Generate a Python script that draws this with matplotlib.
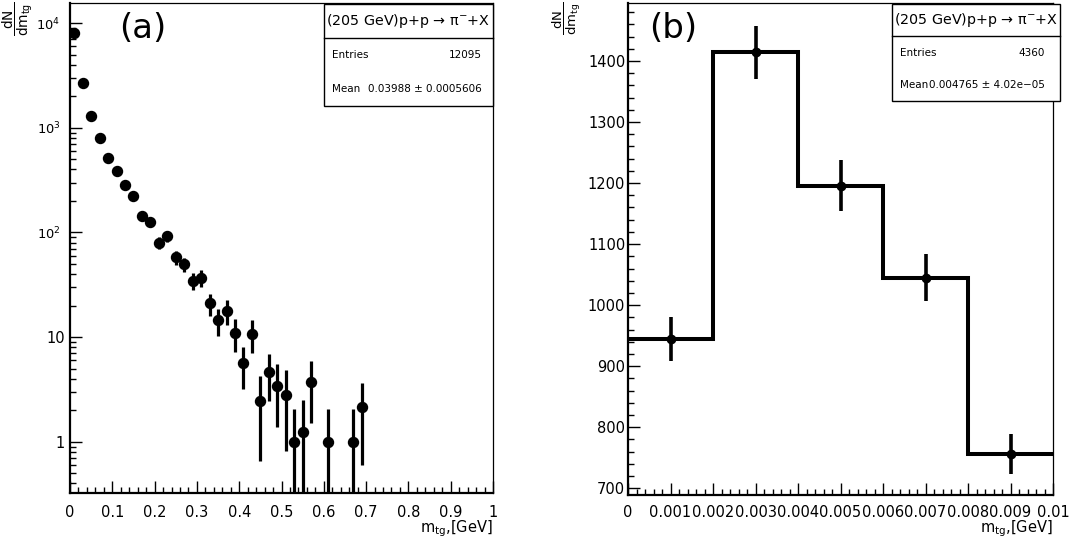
import matplotlib
matplotlib.use("Agg")
import matplotlib.pyplot as plt
from matplotlib.patches import Rectangle
from matplotlib.lines import Line2D
from matplotlib.ticker import MultipleLocator, LogLocator, NullFormatter

plt.rcParams['font.family'] = ['DejaVu Sans']
plt.rcParams['mathtext.fontset'] = 'dejavusans'

# ---------------- data ----------------
# panel (a): m_tg distribution, bin width 0.02 GeV (empty bins omitted)
a_centers = [0.01, 0.03, 0.05, 0.07, 0.09, 0.11, 0.13, 0.15, 0.17, 0.19,
             0.21, 0.23, 0.25, 0.27, 0.29, 0.31, 0.33, 0.35, 0.37, 0.39,
             0.41, 0.43, 0.45, 0.47, 0.49, 0.51, 0.53, 0.55, 0.57, 0.61,
             0.67, 0.69]
a_values = [8020, 2655, 1300, 802, 516, 388, 283, 223, 144, 126,
            79.6, 92.3, 57.8, 49.5, 34.5, 36.9, 21.0, 14.5, 17.7, 11.0,
            5.6, 10.8, 2.45, 4.67, 3.44, 2.82, 1.0, 1.24, 3.72, 1.0,
            1.0, 2.13]
a_errors = [98, 56, 40, 31, 25, 22, 19, 17, 14, 13,
            10.5, 11, 9, 8, 6.5, 6.8, 5.1, 4.2, 4.7, 3.8,
            2.4, 3.7, 1.8, 2.2, 2.05, 2.0, 1.05, 1.25, 2.2, 1.08,
            1.08, 1.53]
a_xticks = [0, 0.1, 0.2, 0.3, 0.4, 0.5, 0.6, 0.7, 0.8, 0.9, 1.0]
a_xticklabels = ['0', '0.1', '0.2', '0.3', '0.4', '0.5', '0.6', '0.7', '0.8', '0.9', '1']
a_yticks = [1, 10, 100, 1000, 10000]
a_yticklabels = ['1', '10', '$10^{2}$', '$10^{3}$', '$10^{4}$']

# panel (b): fine binning, bin width 0.002 GeV
b_edges = [0.0, 0.002, 0.004, 0.006, 0.008, 0.010]
b_centers = [0.001, 0.003, 0.005, 0.007, 0.009]
b_values = [945, 1414, 1196, 1045, 756]
b_errors = [36, 44, 41, 38, 33]
b_xticks = [0, 0.001, 0.002, 0.003, 0.004, 0.005, 0.006, 0.007, 0.008, 0.009, 0.01]
b_xticklabels = ['0', '0.001', '0.002', '0.003', '0.004', '0.005', '0.006',
                 '0.007', '0.008', '0.009', '0.01']
b_yticks = [700, 800, 900, 1000, 1100, 1200, 1300, 1400]

stat_title = '(205 GeV)p+p → π$^{-}$+X'
a_entries, a_mean = '12095', '0.03988 ± 0.0005606'
b_entries, b_mean = '4360', '0.004765 ± 4.02e−05'

# ---------------- figure ----------------
W, H = 1072, 544
fig = plt.figure(figsize=(W / 100, H / 100), dpi=100)


def fx(px):
    return px / W


def fy(py):
    return 1 - py / H


def make_axes(l, t, r, b):
    return fig.add_axes([fx(l), fy(b), fx(r) - fx(l), fy(t) - fy(b)])


ax1 = make_axes(70, 3.3, 493, 493)
ax2 = make_axes(628, 3.3, 1053, 495)

TICK_FS = 10.5

for ax in (ax1, ax2):
    ax.tick_params(which='both', direction='in', top=False, right=False,
                   width=1.0, labelsize=TICK_FS, colors='black')
    ax.tick_params(which='major', length=8.8)
    ax.tick_params(which='minor', length=4.5)
    ax.spines['left'].set_linewidth(1.6)
    ax.spines['bottom'].set_linewidth(1.6)
    ax.spines['top'].set_linewidth(0.9)
    ax.spines['right'].set_linewidth(0.9)

# ---- panel (a)
ax1.set_yscale('log', nonpositive='clip')
ax1.errorbar(a_centers, a_values, yerr=a_errors, fmt='o', color='black',
             ms=7.2, elinewidth=2.3, capsize=0, zorder=3)
ax1.set_xlim(0, 1)
ax1.set_ylim(0.324, 15500)
ax1.set_xticks(a_xticks, labels=a_xticklabels)
ax1.xaxis.set_minor_locator(MultipleLocator(0.02))
ax1.set_yticks(a_yticks, labels=a_yticklabels)
ax1.yaxis.set_minor_locator(LogLocator(base=10, subs=range(2, 10), numticks=20))
ax1.yaxis.set_minor_formatter(NullFormatter())
ax1.tick_params(axis='x', which='both', pad=8.5)
for tick, lab in zip(ax1.yaxis.get_major_ticks(), a_yticklabels):
    if '^' in lab:
        tick.set_pad(7.0)
        tick.label1.set_fontsize(9.4)
    else:
        tick.set_pad(3.6)

# ---- panel (b)
ax2.stairs(b_values, b_edges, baseline=None, color='black', lw=2.9, zorder=2)
ax2.errorbar(b_centers, b_values, yerr=b_errors, fmt='o', color='black',
             ms=6.0, elinewidth=2.6, capsize=0, zorder=3)
ax2.set_xlim(0, 0.01)
ax2.set_ylim(689, 1494.5)
ax2.set_xticks(b_xticks, labels=b_xticklabels)
ax2.xaxis.set_minor_locator(MultipleLocator(0.0002))
ax2.set_yticks(b_yticks)
ax2.yaxis.set_minor_locator(MultipleLocator(20))
ax2.tick_params(axis='y', which='both', pad=2.0)
ax2.tick_params(axis='x', which='both', pad=7.5)

# axis titles
for ax, ybot, hgt, ylx, ylfs in ((ax1, 493, 489.7, 18, 9.8), (ax2, 495, 491.7, 567, 9.5)):
    ax.set_xlabel(r'm$_{\mathrm{tg}}$,[GeV]', fontsize=TICK_FS, ha='right', va='center')
    ax.xaxis.set_label_coords(1.0, -(529 - ybot) / hgt)
    ax.set_ylabel(r'$\dfrac{\mathrm{dN}}{\mathrm{dm_{tg}}}$', fontsize=ylfs,
                  ha='right', va='center', rotation=90, rotation_mode='anchor')
    l = ax.get_position().x0 * W
    r = ax.get_position().x1 * W
    ax.yaxis.set_label_coords((ylx - l) / (r - l), 1.003)

# panel labels
fig.text(fx(119), fy(29), '(a)', fontsize=24.5, ha='left', va='center')
fig.text(fx(649), fy(29), '(b)', fontsize=24.5, ha='left', va='center')


# stat boxes
def stat_box(l, t, r, b, entries, mean, txt_l, txt_r):
    fig.patches.append(Rectangle((fx(l), fy(b)), fx(r) - fx(l), fy(t) - fy(b),
                                 transform=fig.transFigure, facecolor='white',
                                 edgecolor='black', lw=1.0, zorder=5))
    row = (b - t) / 3.0
    fig.lines.append(Line2D([fx(l), fx(r)], [fy(t + row), fy(t + row)],
                            transform=fig.transFigure, color='black', lw=1.0,
                            zorder=6))
    fig.text(fx((l + r) / 2), fy(t + row / 2), stat_title, fontsize=10.3,
             ha='center', va='center', zorder=7)
    fig.text(fx(txt_l), fy(t + 1.5 * row), 'Entries', fontsize=7.5,
             ha='left', va='center', zorder=7)
    fig.text(fx(txt_r), fy(t + 1.5 * row), entries, fontsize=7.5,
             ha='right', va='center', zorder=7)
    fig.text(fx(txt_l), fy(t + 2.5 * row), 'Mean', fontsize=7.5,
             ha='left', va='center', zorder=7)
    fig.text(fx(txt_r), fy(t + 2.5 * row), mean, fontsize=7.5,
             ha='right', va='center', zorder=7)


stat_box(324, 4, 493, 106, a_entries, a_mean, 332, 482)
stat_box(892, 4, 1060, 101, b_entries, b_mean, 900, 1045)

fig.savefig('out.png', dpi=100, facecolor='white')
